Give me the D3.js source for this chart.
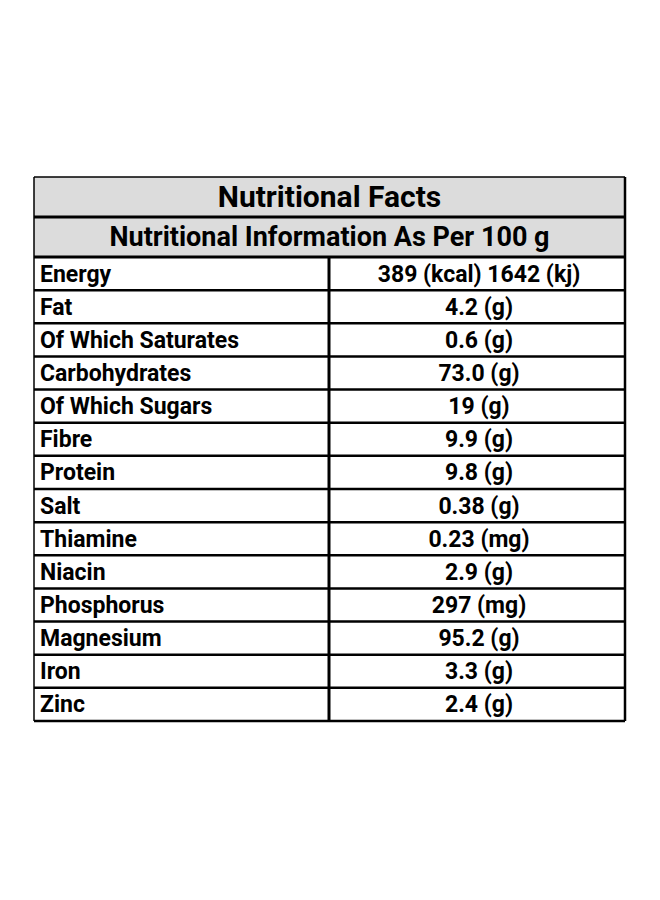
<!DOCTYPE html><html><head><script src="https://cdn.jsdelivr.net/npm/d3@7"></script>
<style>body{margin:0;background:#fff}</style></head><body><svg id="c" width="660" height="900"></svg>
<script>
const title = "Nutritional Facts";
const subtitle = "Nutritional Information As Per 100 g";
const nutrients = ["Energy","Fat","Of Which Saturates","Carbohydrates","Of Which Sugars","Fibre","Protein","Salt","Thiamine","Niacin","Phosphorus","Magnesium","Iron","Zinc"];
const amounts = ["389 (kcal) 1642 (kj)","4.2 (g)","0.6 (g)","73.0 (g)","19 (g)","9.9 (g)","9.8 (g)","0.38 (g)","0.23 (mg)","2.9 (g)","297 (mg)","95.2 (g)","3.3 (g)","2.4 (g)"];

const svg = d3.select("#c");
const L=34, R=625, T=177, H1=217, H2=257, B=721, C=329;
const y = d3.scaleBand().domain(nutrients).range([H2,B]);
const f = "Roboto, sans-serif";
svg.append("rect").attr("x",L).attr("y",T).attr("width",R-L).attr("height",H2-T).attr("fill","#dcdcdc");
svg.append("text").attr("x",(L+R)/2).attr("y",(T+H1)/2+10).attr("text-anchor","middle").attr("font-family",f).attr("font-weight",700).attr("font-size",30).text(title);
svg.append("text").attr("x",(L+R)/2).attr("y",(H1+H2)/2+9).attr("text-anchor","middle").attr("font-family",f).attr("font-weight",700).attr("font-size",27).text(subtitle);
const g = svg.append("g");
g.selectAll(".n").data(nutrients).join("text").attr("x",L+6).attr("y",d=>y(d)+y.bandwidth()/2+8).attr("font-family",f).attr("font-weight",700).attr("font-size",23).text(d=>d);
g.selectAll(".a").data(amounts).join("text").attr("x",(C+R)/2+2).attr("y",(d,i)=>y(nutrients[i])+y.bandwidth()/2+8).attr("text-anchor","middle").attr("font-family",f).attr("font-weight",700).attr("font-size",23).text(d=>d);
g.selectAll(".rl").data(nutrients.slice(1)).join("line").attr("x1",L).attr("x2",R).attr("y1",d=>y(d)).attr("y2",d=>y(d)).attr("stroke","#000").attr("stroke-width",2.5);
const line=(x1,y1,x2,y2,w)=>svg.append("line").attr("x1",x1).attr("y1",y1).attr("x2",x2).attr("y2",y2).attr("stroke","#000").attr("stroke-width",w);
line(L,T,R,T,1.5);
line(L,H1,R,H1,3);
line(L,H2,R,H2,3);
line(L,B,R,B,2.5);
line(L,T,L,B,1.5);
line(R,T,R,B,2.5);
line(C,H2,C,B,3);
</script></body></html>
